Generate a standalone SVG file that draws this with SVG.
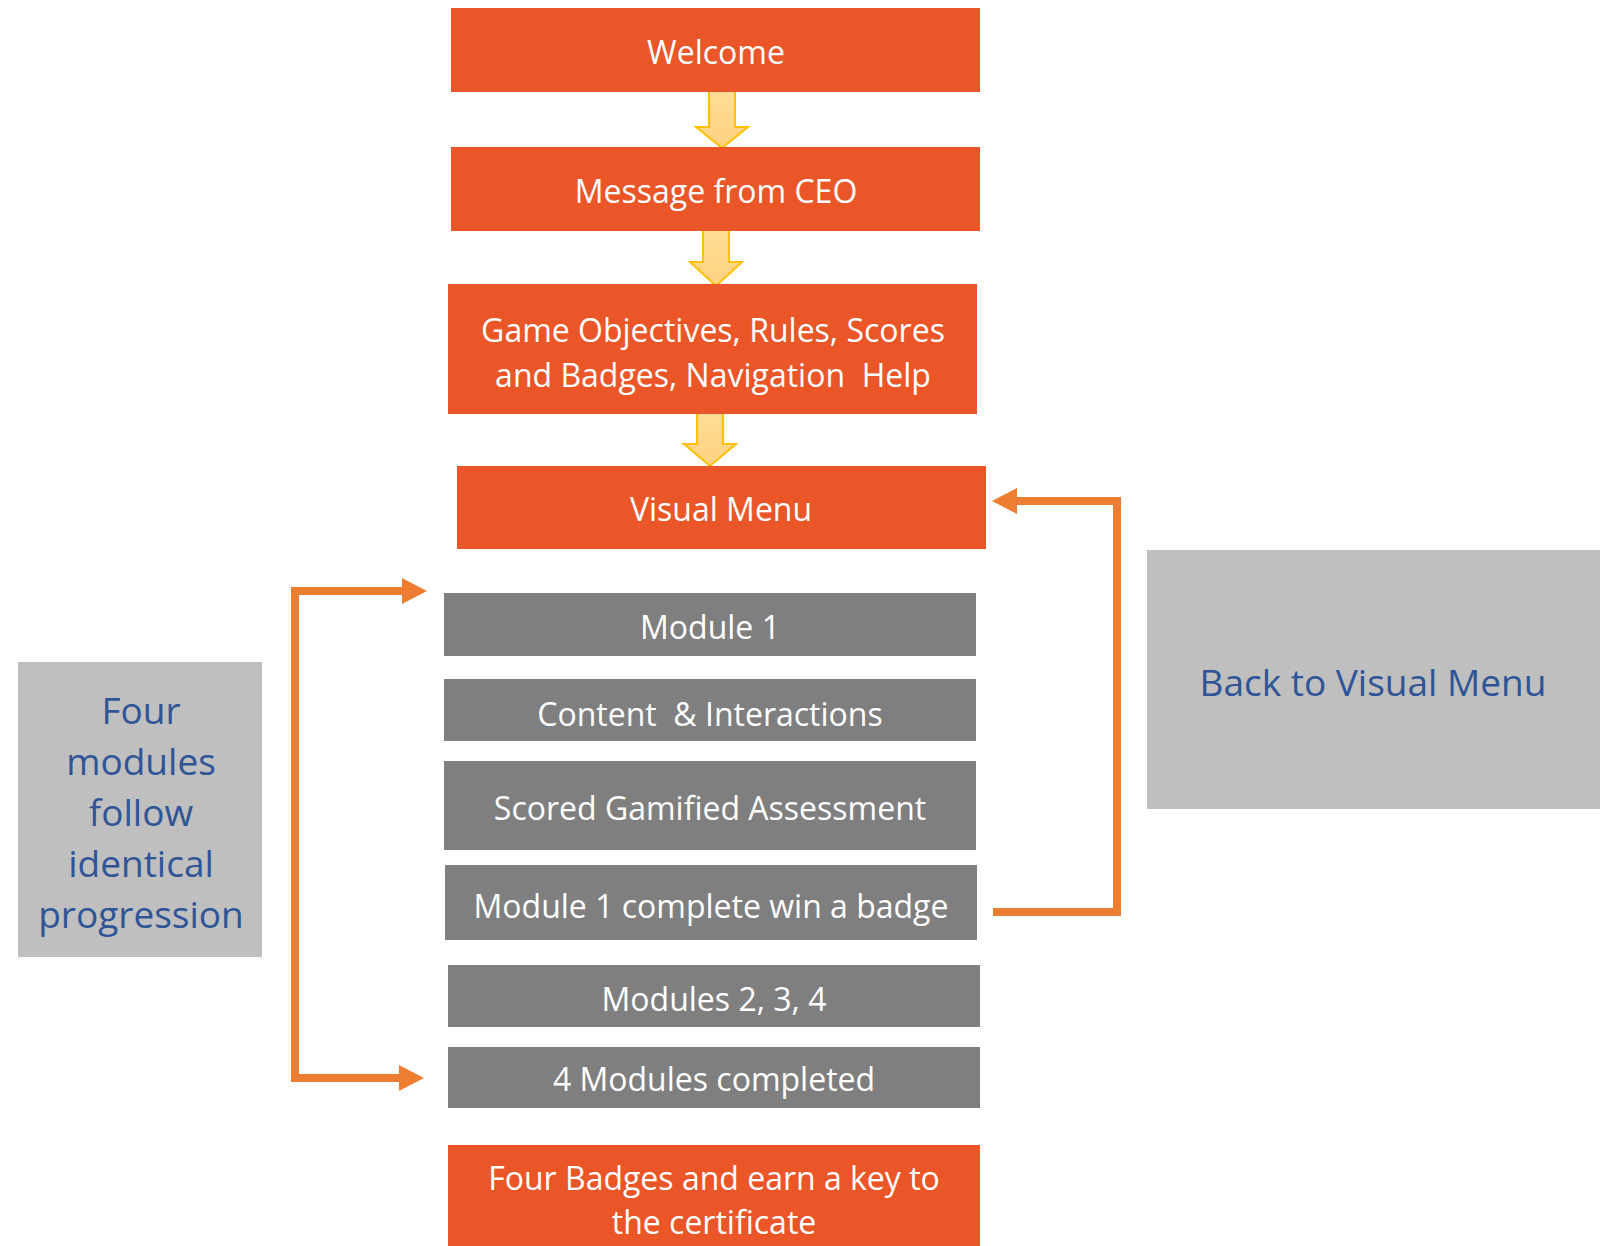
<svg xmlns="http://www.w3.org/2000/svg" width="1601" height="1246" viewBox="0 0 1601 1246">
<style>
.o{fill:#EA5628}
.g{fill:#7F7F7F}
.lg{fill:#BFBFBF}
text{font-family:"Open Sans","Noto Sans","Liberation Sans",sans-serif;text-anchor:middle;dominant-baseline:central;white-space:pre}
.w{fill:#FFFFFF;font-size:32px}
.b{fill:#2F5597;font-size:37px}
.da{fill:url(#ag);stroke:#FFC000;stroke-width:2}
.c{fill:none;stroke:#ED7D31;stroke-width:8}
.h{fill:#ED7D31}
</style>
<defs>
<linearGradient id="ag" x1="0" y1="0" x2="0" y2="1">
<stop offset="0" stop-color="#FFDD99"/>
<stop offset="1" stop-color="#FFD27F"/>
</linearGradient>
</defs>
<g id="connectors">
<path class="da" d="M709,89 H735 V127 H748 L722,148 L696,127 H709 Z"/>
<path class="da" d="M703,224 H729 V262 H742 L716,286 L690,262 H703 Z"/>
<path class="da" d="M697,408 H723 V444 H736 L710,466 L684,444 H697 Z"/>
<path class="c" d="M295,1082 V591 H404"/>
<polygon class="h" points="402,578 427,591 402,604"/>
<path class="c" d="M295,1078 H401"/>
<polygon class="h" points="399,1065 424,1078 399,1091"/>
<path class="c" d="M993,912 H1117 V501 H1015"/>
<polygon class="h" points="1017,488 992,501 1017,514"/>
</g>
<g id="welcome"><rect class="o" x="451" y="8" width="529" height="84"/><text class="w" x="716" y="51">Welcome</text></g>
<g id="ceo"><rect class="o" x="451" y="147" width="529" height="84"/><text class="w" x="716" y="190">Message from CEO</text></g>
<g id="objectives"><rect class="o" x="448" y="284" width="529" height="130"/><text class="w" x="713" y="329">Game Objectives, Rules, Scores</text><text class="w" x="713" y="374">and Badges, Navigation  Help</text></g>
<g id="visual-menu"><rect class="o" x="457" y="466" width="529" height="83"/><text class="w" x="721" y="508">Visual Menu</text></g>
<g id="module1"><rect class="g" x="444" y="593" width="532" height="63"/><text class="w" x="710" y="626">Module 1</text></g>
<g id="content"><rect class="g" x="444" y="679" width="532" height="62"/><text class="w" x="710" y="713">Content  &amp; Interactions</text></g>
<g id="scored"><rect class="g" x="444" y="761" width="532" height="89"/><text class="w" x="710" y="807">Scored Gamified Assessment</text></g>
<g id="complete"><rect class="g" x="445" y="865" width="532" height="75"/><text class="w" x="711" y="905">Module 1 complete win a badge</text></g>
<g id="modules234"><rect class="g" x="448" y="965" width="532" height="62"/><text class="w" x="714" y="998">Modules 2, 3, 4</text></g>
<g id="modules-completed"><rect class="g" x="448" y="1047" width="532" height="61"/><text class="w" x="714" y="1078">4 Modules completed</text></g>
<g id="badges"><rect class="o" x="448" y="1145" width="532" height="101"/><text class="w" x="714" y="1177">Four Badges and earn a key to</text><text class="w" x="714" y="1221">the certificate</text></g>
<g id="four-modules"><rect class="lg" x="18" y="662" width="244" height="295"/>
<text class="b" x="141" y="709">Four</text><text class="b" x="141" y="760">modules</text><text class="b" x="141" y="811">follow</text><text class="b" x="141" y="862">identical</text><text class="b" x="141" y="913">progression</text></g>
<g id="back"><rect class="lg" x="1147" y="550" width="453" height="259"/><text class="b" x="1373" y="681">Back to Visual Menu</text></g>
</svg>
